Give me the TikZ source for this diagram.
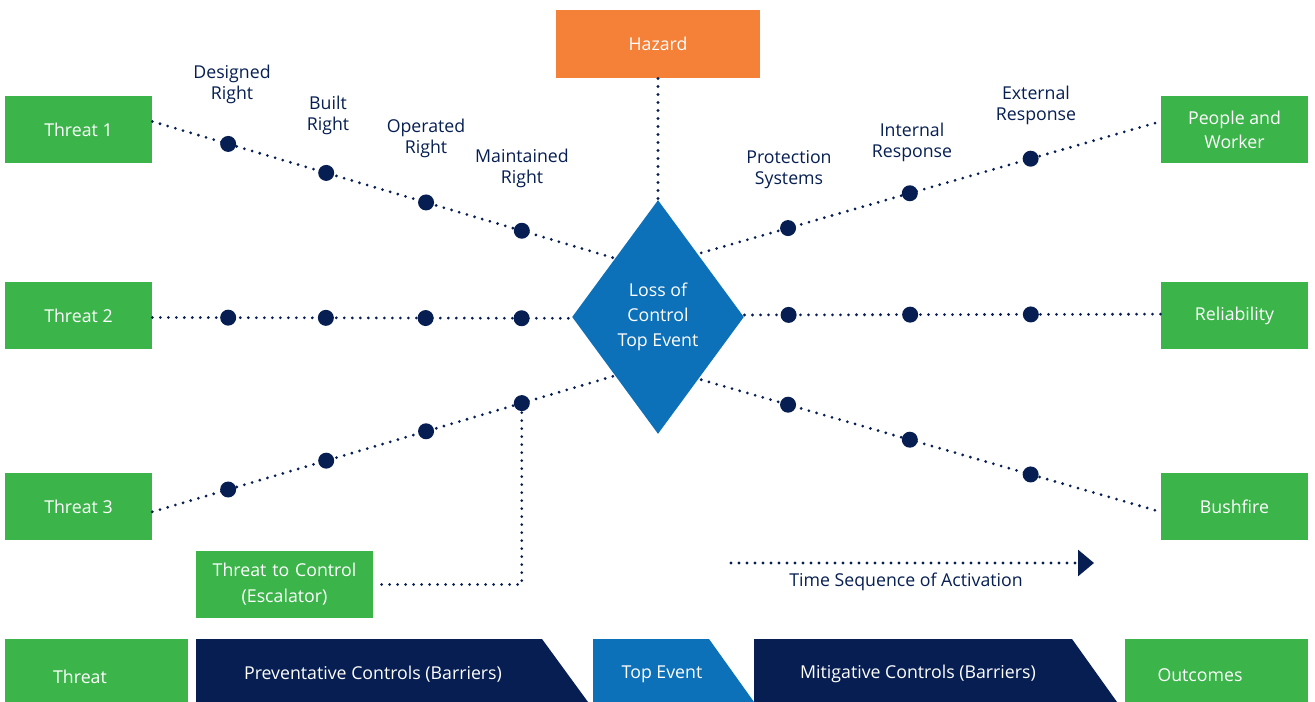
\documentclass[tikz,border=0pt]{standalone}
\usepackage{fontspec}
\setmainfont{Open Sans}
\usetikzlibrary{shapes.geometric,arrows.meta}

\definecolor{boxgreen}{RGB}{59,180,74}
\definecolor{navy}{RGB}{6,30,82}
\definecolor{topblue}{RGB}{12,113,185}
\definecolor{hazorange}{RGB}{245,128,56}

\tikzset{every picture/.style={line width=0.75pt}}
\tikzset{
  box/.style={fill=boxgreen, text=white, minimum width=110pt, minimum height=50pt, inner sep=0pt, align=center, font=\fontsize{13.3}{18}\selectfont},
  dotline/.style={navy, line width=2.3pt, line cap=round, dash pattern=on 0pt off 6pt},
  bigdot/.style={circle, fill=navy, minimum size=12pt, inner sep=0pt},
  lbl/.style={text=navy, align=center, inner sep=0.75pt, font=\fontsize{13.3}{15.75}\selectfont},
  bar/.style={text=white, inner sep=0pt, font=\fontsize{13.3}{16}\selectfont}
}

\begin{document}
\begin{tikzpicture}[x=0.75pt,y=0.75pt,yscale=-1,xscale=1]
\useasboundingbox (0,0) rectangle (1315,702);

% Boxes
\node[box] (t1) at (78.5,129.5) {Threat 1};
\node[box] (t2) at (78.5,315.5) {Threat 2};
\node[box] (t3) at (78.5,506.5) {Threat 3};
\node[box] (pw) at (1234.5,129.5) {People and\\Worker};
\node[box] (rel) at (1234.5,315.5) {Reliability};
\node[box] (bf) at (1234.5,506.5) {Bushfire};
\node[box, minimum width=133pt, text width=130pt, font=\fontsize{13.3}{19.5}\selectfont] (esc) at (284.5,584.5) {Threat to Control\\(Escalator)};
\node[box, fill=hazorange, minimum width=153pt, minimum height=51pt] (hz) at (658,44) {Hazard};

% Top event
\node[diamond, fill=topblue, text=white, minimum width=129pt, minimum height=175.5pt, inner sep=0pt, align=center, font=\fontsize{13.3}{18.75}\selectfont] (top) at (658,317) {Loss of\\Control\\Top Event};

% Threat lines
\draw[dotline] ([yshift=-6pt]t1.east) -- (top.north west)
  node[bigdot,pos=0.164] (a11) {} node[bigdot,pos=0.376] (a12) {}
  node[bigdot,pos=0.592] (a13) {} node[bigdot,pos=0.799] (a14) {};
\draw[dotline] ([yshift=1.5pt]t2.east) -- ([yshift=1pt]top.west)
  node[bigdot,pos=0.181] (a21) {} node[bigdot,pos=0.414] (a22) {}
  node[bigdot,pos=0.652] (a23) {} node[bigdot,pos=0.881] (a24) {};
\draw[dotline] ([yshift=4pt]t3.east) -- (top.south west)
  node[bigdot,pos=0.164] (a31) {} node[bigdot,pos=0.376] (a32) {}
  node[bigdot,pos=0.592] (a33) {} node[bigdot,pos=0.799] (a34) {};

% Outcome lines
\draw[dotline] ([yshift=-4pt]top.north east) -- ([yshift=-6pt]pw.west)
  node[bigdot,pos=0.189] (b11) {} node[bigdot,pos=0.454] (b12) {}
  node[bigdot,pos=0.717] (b13) {};
\draw[dotline] ([yshift=-1.5pt]top.east) -- ([yshift=-1pt]rel.west)
  node[bigdot,pos=0.106] (b21) {} node[bigdot,pos=0.398] (b22) {}
  node[bigdot,pos=0.688] (b23) {};
\draw[dotline] ([yshift=3pt]top.south east) -- ([yshift=4pt]bf.west)
  node[bigdot,pos=0.189] (b31) {} node[bigdot,pos=0.454] (b32) {}
  node[bigdot,pos=0.717] (b33) {};

% Hazard and escalator
\draw[dotline] (hz.south) -- (top.north);
\draw[dotline] (a34) |- (esc.east);

% Text Node
\node[lbl] (l1) at (232,84) {Designed\\Right};
\node[lbl] (l2) at (328,115) {Built\\Right};
\node[lbl] (l3) at (426,138) {Operated\\Right};
\node[lbl] (l4) at (522,168) {Maintained\\Right};
\node[lbl] (l5) at (789,170) {Protection\\Systems};
\node[lbl] (l6) at (912,142) {Internal\\Response};
\node[lbl] (l7) at (1036,105) {External\\Response};

% Time sequence
\coordinate (ts) at (731,563);
\coordinate (te) at (1094,563);
\draw[dotline, -{Triangle[length=12pt,width=19.5pt]}] (ts) -- (te);
\node[lbl] (tsl) at (906,582) {Time Sequence of Activation};

% Bottom bar
\fill[boxgreen] (5,639) rectangle (188,702);
\fill[navy] (196,639) -- (542,639) -- (588,702) -- (196,702) -- cycle;
\fill[topblue] (593,639) -- (709,639) -- (754,702) -- (593,702) -- cycle;
\fill[navy] (754,639) -- (1072,639) -- (1117,702) -- (754,702) -- cycle;
\fill[boxgreen] (1125,639) rectangle (1308,702);
\node[bar] (n1) at (80,677) {Threat};
\node[bar] (n2) at (373,674) {Preventative Controls (Barriers)};
\node[bar] (n3) at (662,674) {Top Event};
\node[bar] (n4) at (918,674) {Mitigative Controls (Barriers)};
\node[bar] (n5) at (1200,675) {Outcomes};

\end{tikzpicture}
\end{document}
